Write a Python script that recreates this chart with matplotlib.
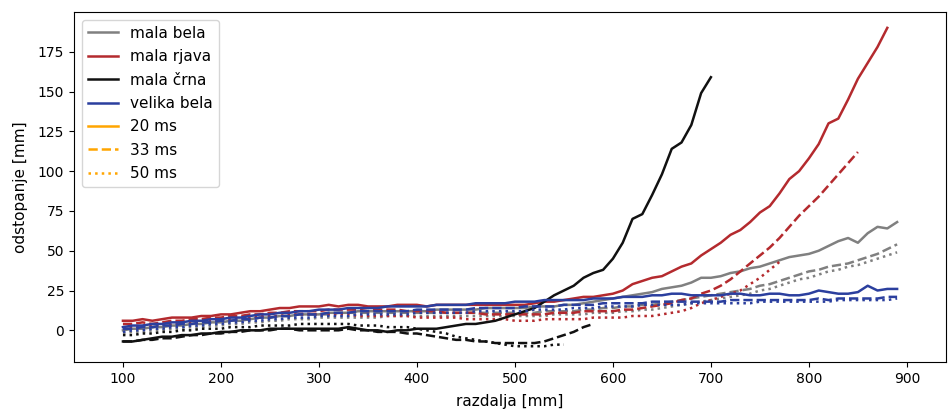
"""Odstopanje merjene razdalje za različne tarče in čase osvetlitve."""

import matplotlib

matplotlib.use("Agg")
import matplotlib.pyplot as plt
from matplotlib.lines import Line2D

# razdalje v korakih po 10 mm
razdalja = list(range(100, 900, 10))

# mala bela
mala_bela_20 = [0, 1, 1, 2, 2, 3, 3, 4, 4, 5,
                5, 6, 6, 7, 8, 8, 9, 9, 10, 10,
                10, 11, 11, 11, 12, 12, 12, 12, 12, 12,
                12, 12, 13, 13, 13, 13, 13, 14, 14, 14,
                14, 14, 15, 15, 15, 16, 16, 17, 18, 19,
                20, 21, 22, 23, 24, 26, 27, 28, 30, 33,
                33, 34, 36, 37, 39, 40, 42, 44, 46, 47,
                48, 50, 53, 56, 58, 55, 61, 65, 64, 68]
mala_bela_33 = [1, 1, 2, 2, 3, 3, 4, 4, 5, 5,
                6, 6, 7, 7, 8, 8, 9, 9, 10, 10,
                10, 10, 11, 11, 11, 11, 11, 11, 11, 11,
                11, 11, 11, 11, 11, 11, 11, 11, 11, 11,
                11, 11, 11, 12, 12, 12, 12, 13, 13, 14,
                14, 15, 15, 16, 16, 17, 18, 19, 20, 21,
                22, 23, 24, 25, 26, 28, 29, 31, 33, 35,
                37, 38, 40, 41, 42, 44, 46, 48, 51, 54]
mala_bela_50 = [-2, -1, -1, 0, 0, 1, 1, 2, 2, 3,
                3, 4, 4, 5, 5, 6, 6, 7, 7, 7,
                8, 8, 8, 8, 8, 8, 8, 9, 9, 9,
                9, 9, 9, 9, 9, 9, 9, 9, 9, 9,
                9, 9, 9, 9, 10, 10, 10, 10, 11, 11,
                11, 12, 12, 13, 13, 14, 15, 16, 17, 18,
                19, 20, 21, 22, 23, 25, 26, 28, 30, 32,
                33, 35, 37, 38, 40, 41, 43, 45, 47, 49]

# mala rjava
mala_rjava_20 = [6, 6, 7, 6, 7, 8, 8, 8, 9, 9,
                 10, 10, 11, 12, 12, 13, 14, 14, 15, 15,
                 15, 16, 15, 16, 16, 15, 15, 15, 16, 16,
                 16, 15, 16, 16, 16, 16, 16, 16, 16, 16,
                 16, 16, 17, 18, 18, 19, 20, 21, 21, 22,
                 23, 25, 29, 31, 33, 34, 37, 40, 42, 47,
                 51, 55, 60, 63, 68, 74, 78, 86, 95, 100,
                 108, 117, 130, 133, 145, 158, 168, 178, 190]
mala_rjava_33 = [4, 4, 5, 4, 5, 6, 6, 7, 7, 8,
                 8, 9, 9, 10, 10, 11, 11, 12, 12, 12,
                 12, 13, 13, 13, 13, 12, 13, 13, 13, 12,
                 12, 12, 12, 11, 11, 11, 11, 10, 10, 10,
                 10, 10, 10, 10, 11, 11, 11, 12, 12, 12,
                 12, 13, 13, 14, 15, 16, 17, 19, 20, 23,
                 25, 28, 32, 37, 42, 47, 52, 58, 65, 72,
                 78, 84, 91, 98, 105, 112]
mala_rjava_50 = [2, 2, 3, 3, 4, 4, 5, 5, 6, 6,
                 7, 7, 8, 8, 9, 9, 9, 10, 10, 10,
                 10, 10, 10, 10, 9, 9, 9, 9, 9, 9,
                 8, 8, 8, 8, 8, 7, 7, 7, 7, 7,
                 6, 6, 6, 7, 7, 7, 7, 7, 8, 8,
                 8, 8, 9, 9, 9, 10, 11, 12, 14, 17,
                 19, 21, 23, 25, 29, 33, 38, 43]

# mala črna
mala_crna_20 = [-7, -7, -6, -5, -4, -4, -3, -3, -2, -2,
                -1, -1, 0, 0, 0, 1, 1, 1, 1, 1,
                1, 1, 1, 2, 1, 0, 0, -1, 0, 0,
                1, 1, 1, 2, 3, 4, 4, 5, 6, 8,
                10, 12, 14, 18, 22, 25, 28, 33, 36, 38,
                45, 55, 70, 73, 85, 98, 114, 118, 129, 149,
                159]
mala_crna_33 = [-7, -7, -6, -6, -5, -5, -4, -3, -3, -2,
                -2, -1, -1, 0, 0, 0, 1, 1, 0, 0,
                0, 0, 0, 1, 0, 0, -1, -1, -1, -2,
                -2, -3, -4, -5, -6, -6, -7, -7, -8, -8,
                -8, -8, -8, -7, -5, -3, -1, 2, 4]
mala_crna_50 = [-3, -3, -2, -2, -1, -1, 0, 0, 1, 1,
                1, 2, 2, 2, 3, 3, 3, 3, 4, 4,
                4, 4, 4, 4, 3, 3, 3, 2, 2, 2,
                1, 0, -1, -2, -4, -5, -6, -7, -8, -9,
                -10, -10, -10, -10, -9, -9]

# velika bela
velika_bela_20 = [2, 3, 3, 4, 4, 5, 5, 6, 6, 7,
                  7, 8, 8, 9, 10, 10, 11, 11, 12, 12,
                  13, 13, 13, 14, 14, 14, 14, 15, 15, 15,
                  15, 15, 16, 16, 16, 16, 17, 17, 17, 17,
                  18, 18, 18, 19, 19, 19, 19, 19, 20, 20,
                  20, 21, 21, 21, 22, 22, 23, 23, 22, 22,
                  22, 22, 23, 23, 22, 22, 23, 23, 22, 22,
                  23, 25, 24, 23, 23, 24, 28, 25, 26, 26]
velika_bela_33 = [1, 1, 2, 2, 3, 3, 4, 4, 5, 5,
                  6, 6, 7, 7, 8, 8, 9, 9, 10, 10,
                  10, 11, 11, 11, 12, 12, 12, 12, 12, 12,
                  13, 13, 13, 13, 13, 13, 14, 14, 14, 14,
                  14, 15, 15, 15, 15, 16, 16, 16, 16, 17,
                  17, 17, 17, 17, 18, 18, 18, 18, 18, 18,
                  18, 18, 19, 19, 19, 19, 19, 19, 19, 19,
                  19, 20, 19, 20, 20, 20, 20, 20, 21, 21]
velika_bela_50 = [-1, 0, 0, 1, 1, 2, 2, 3, 3, 4,
                  4, 5, 5, 6, 6, 7, 7, 8, 8, 8,
                  9, 9, 9, 9, 10, 10, 10, 10, 10, 10,
                  11, 11, 11, 11, 11, 11, 12, 12, 12, 12,
                  12, 12, 13, 13, 13, 13, 14, 14, 14, 15,
                  15, 15, 15, 16, 16, 16, 16, 16, 17, 17,
                  17, 17, 17, 17, 17, 18, 18, 18, 18, 18,
                  18, 18, 18, 19, 19, 19, 19, 19, 19, 20]

tarce = ["mala bela", "mala rjava", "mala črna", "velika bela"]
barve = ["#808080", "#b42a2e", "#111111", "#2b3f9e"]
casi = ["20 ms", "33 ms", "50 ms"]
stili = ["-", "--", ":"]
podatki = [
    [mala_bela_20, mala_bela_33, mala_bela_50],
    [mala_rjava_20, mala_rjava_33, mala_rjava_50],
    [mala_crna_20, mala_crna_33, mala_crna_50],
    [velika_bela_20, velika_bela_33, velika_bela_50],
]

fig = plt.figure(figsize=(9.48, 4.12), dpi=100)
ax = fig.add_axes([0.078, 0.121, 0.920, 0.850])

for barva, serije in zip(barve, podatki):
    for stil, y in zip(stili, serije):
        ax.plot(razdalja[: len(y)], y, color=barva, linestyle=stil, lw=1.8)

handles = [Line2D([], [], color=c, lw=1.8) for c in barve]
handles += [Line2D([], [], color="orange", linestyle=s, lw=1.8) for s in stili]
ax.legend(handles, tarce + casi, loc="upper left", fontsize=11, labelspacing=0.55)

ax.set_xlim(50, 940)
ax.set_ylim(-20, 200)
ax.set_xticks(range(100, 1000, 100))
ax.set_yticks(range(0, 200, 25))
ax.set_xlabel("razdalja [mm]", fontsize=11, labelpad=6)
ax.set_ylabel("odstopanje [mm]", fontsize=11, labelpad=7)

fig.savefig("out.png", dpi=100)
plt.close(fig)
